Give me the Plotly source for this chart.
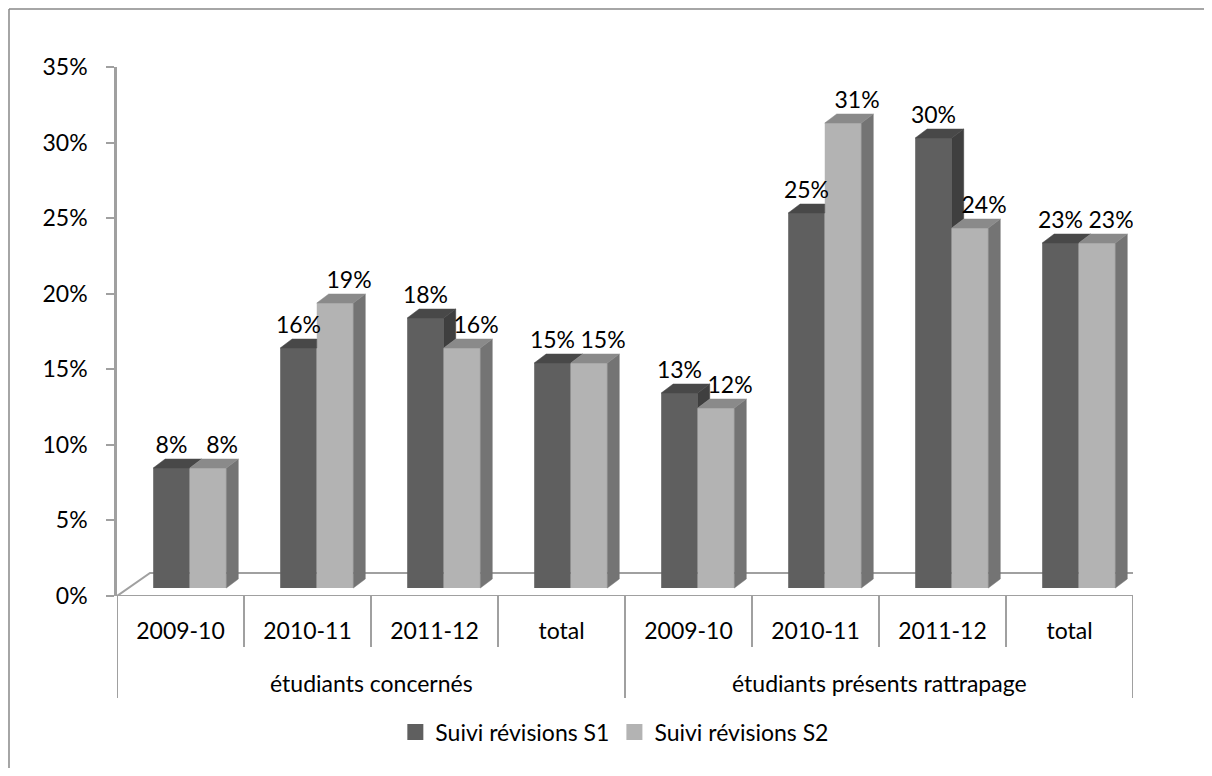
import plotly.graph_objects as go

# ---- data ----
groups = ["étudiants concernés", "étudiants présents rattrapage"]
subcats = ["2009-10", "2010-11", "2011-12", "total", "2009-10", "2010-11", "2011-12", "total"]
group_of = [0, 0, 0, 0, 1, 1, 1, 1]
series_names = ["Suivi révisions S1", "Suivi révisions S2"]
s1 = [8, 16, 18, 15, 13, 25, 30, 23]
s2 = [8, 19, 16, 15, 12, 31, 24, 23]
yticks = [0, 5, 10, 15, 20, 25, 30, 35]

# ---- style / geometry ----
FONT = "Lato"
W = 0.288          # bar width in category units
OFF1 = -0.215      # offset of S1 bar left edge from category centre
OFF2 = OFF1 + W
DX = 0.094         # depth offset (x units)
DY = 0.6           # depth offset (y2 units)
LABEL_SHIFT = [0.0, 0.11]  # horizontal nudge of data labels per series
C_FRONT = ["#5f5f5f", "#b3b3b3"]
C_TOP = ["#484848", "#8a8a8a"]
C_SIDE = ["#3f3f3f", "#747474"]
GRID = "#a0a0a0"

xs = list(range(len(subcats)))
fig = go.Figure()

# front faces (bars)
for k, (vals, off) in enumerate([(s1, OFF1), (s2, OFF2)]):
    fig.add_trace(go.Bar(x=xs, y=vals, offset=off, width=W, yaxis="y2",
                         marker=dict(color=C_FRONT[k], line=dict(width=0)),
                         showlegend=False, hoverinfo="skip"))


def poly_trace(px, py, color):
    return go.Scatter(x=px, y=py, yaxis="y2", mode="lines", fill="toself",
                      fillcolor=color, line=dict(color=color, width=0.5),
                      showlegend=False, hoverinfo="skip")


# S1 side (visible part) and top faces
sx, sy, tx, ty = [], [], [], []
for i in xs:
    vd, vl = s1[i], s2[i]
    xl = i + OFF1
    xr = xl + W
    if vd > vl:
        sx += [xr, xr, xr + DX, xr + DX, xr, None]
        sy += [vl, vd, vd + DY, vl + DY, vl, None]
        tx += [xl, xr, xr + DX, xl + DX, xl, None]
        ty += [vd, vd, vd + DY, vd + DY, vd, None]
    elif vd < vl:
        tx += [xl, xr, xr, xl + DX, xl, None]
        ty += [vd, vd, vd + DY, vd + DY, vd, None]
    else:
        tx += [xl, xr, xr + DX, xl + DX, xl, None]
        ty += [vd, vd, vd + DY, vd + DY, vd, None]
fig.add_trace(poly_trace(sx, sy, C_SIDE[0]))
fig.add_trace(poly_trace(tx, ty, C_TOP[0]))

# S2 side and top faces
sx, sy, tx, ty = [], [], [], []
for i in xs:
    v = s2[i]
    xl = i + OFF2
    xr = xl + W
    sx += [xr, xr, xr + DX, xr + DX, xr, None]
    sy += [0, v, v + DY, DY, 0, None]
    tx += [xl, xr, xr + DX, xl + DX, xl, None]
    ty += [v, v, v + DY, v + DY, v, None]
fig.add_trace(poly_trace(sx, sy, C_SIDE[1]))
fig.add_trace(poly_trace(tx, ty, C_TOP[1]))

# data labels
for k, (vals, off) in enumerate([(s1, OFF1), (s2, OFF2)]):
    fig.add_trace(go.Scatter(x=[i + off + W / 2 + LABEL_SHIFT[k] for i in xs],
                             y=[v + DY for v in vals], yaxis="y2",
                             mode="text", text=[f"{v}%" for v in vals],
                             textposition="top center",
                             textfont=dict(family=FONT, size=23, color="black"),
                             showlegend=False, hoverinfo="skip"))

# legend entries
for k, name in enumerate(series_names):
    fig.add_trace(go.Scatter(x=[None], y=[None], mode="markers", name=name,
                             marker=dict(symbol="square", size=16, color=C_FRONT[k])))

shapes = []
# floor (3D base)
shapes.append(dict(type="path", xref="x", yref="y",
                   path="M -0.5 0 L 7.5 0 L 7.752 1.52 L -0.24 1.52 Z",
                   line=dict(color=GRID, width=2), fillcolor="white", layer="below"))
# category dividers
n = len(subcats)
for b in range(n + 1):
    xb = b - 0.5
    is_group_edge = b == 0 or b == n or group_of[b - 1] != group_of[b]
    shapes.append(dict(type="line", xref="x", yref="paper", x0=xb, x1=xb,
                       y0=0, y1=-0.1928 if is_group_edge else -0.0964,
                       line=dict(color=GRID, width=2)))
# outer chart border: only the top and left edges fall inside the picture
shapes.append(dict(type="line", xref="paper", yref="paper",
                   x0=-0.1063, x1=1.2, y0=1.1096, y1=1.1096,
                   line=dict(color="#888888", width=1.5)))
shapes.append(dict(type="line", xref="paper", yref="paper",
                   x0=-0.1063, x1=-0.1063, y0=-0.6, y1=1.1096,
                   line=dict(color="#888888", width=1.5)))

annotations = []
for g, name in enumerate(groups):
    idx = [i for i in xs if group_of[i] == g]
    annotations.append(dict(x=sum(idx) / len(idx), y=-0.1645, xref="x", yref="paper",
                            text=name, showarrow=False, yanchor="middle",
                            font=dict(family=FONT, size=23, color="black")))

fig.update_layout(
    width=1196, height=760,
    margin=dict(l=109, r=71, t=59, b=172),
    paper_bgcolor="white", plot_bgcolor="white",
    barmode="overlay",
    font=dict(family=FONT, size=23, color="black"),
    shapes=shapes, annotations=annotations,
    xaxis=dict(range=[-0.5, 7.5], tickvals=xs, ticktext=subcats, showgrid=False,
               zeroline=False, showline=False, ticks="", ticklabelstandoff=19,
               tickfont=dict(family=FONT, size=23, color="black")),
    yaxis=dict(range=[0, 35], tickvals=yticks, ticktext=[f"{t}%" for t in yticks],
               showgrid=False, zeroline=False, showline=True, linecolor=GRID, linewidth=2.5,
               ticks="outside", ticklen=8, tickcolor=GRID, tickwidth=2,
               ticklabelstandoff=14,
               tickfont=dict(family=FONT, size=23, color="black")),
    yaxis2=dict(range=[-0.533, 34.733], overlaying="y", visible=False),
    legend=dict(orientation="h", x=0.49, xanchor="center", y=-0.257, yanchor="middle",
                itemwidth=30,
                font=dict(family=FONT, size=23, color="black"), bgcolor="rgba(0,0,0,0)"),
)

fig.write_html("out.html", config={"displayModeBar": False})
